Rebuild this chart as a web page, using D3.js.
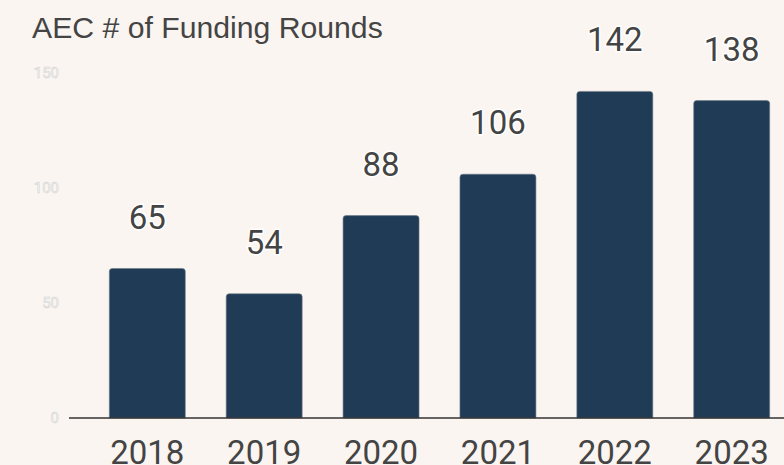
<!DOCTYPE html>
<html>
<head>
<meta charset="utf-8">
<script src="https://cdn.jsdelivr.net/npm/d3@7"></script>
<style>
  html, body { margin: 0; padding: 0; background: #faf5f0; overflow: hidden; }
  svg { display: block; }
</style>
</head>
<body>
<svg width="784" height="465"></svg>
<script>
const years = ['2018', '2019', '2020', '2021', '2022', '2023'];
const rounds = [65, 54, 88, 106, 142, 138];
const yTicks = [0, 50, 100, 150];

const svg = d3.select('svg');
const width = 784;
const height = 465;

svg.append('rect')
  .attr('width', width)
  .attr('height', height)
  .attr('fill', '#faf5f0');

// title
svg.append('text')
  .text('AEC # of Funding Rounds')
  .attr('x', 32)
  .attr('y', 38)
  .attr('font-family', '"Liberation Sans", Arial, sans-serif')
  .attr('font-size', '30.2px')
  .attr('fill', '#444');

const xScale = d3.scaleBand()
  .domain(years)
  .range([69, 810])
  .paddingInner(0.35)
  .paddingOuter(0.345);

const yScale = d3.scaleLinear()
  .domain([0, 150])
  .range([418, 73]);

// y tick labels
svg.append('g')
  .selectAll('text')
  .data(yTicks)
  .enter()
  .append('text')
  .text(d => d)
  .attr('x', 59)
  .attr('y', d => yScale(d))
  .attr('dy', '0.36em')
  .attr('text-anchor', 'end')
  .attr('font-family', 'Roboto, sans-serif')
  .attr('font-size', '15px')
  .attr('fill', '#f7f7f7')
  .attr('stroke', '#cdcdcd')
  .attr('stroke-width', 0.5);

// bars
const bars = svg.append('g');
bars.selectAll('path')
  .data(years)
  .enter()
  .append('path')
  .attr('d', (d, i) => {
    const x = xScale(d), w = xScale.bandwidth();
    const y0 = yScale(0), y1 = yScale(rounds[i]);
    const r = 3;
    return `M${x},${y0}V${y1 + r}Q${x},${y1} ${x + r},${y1}H${x + w - r}Q${x + w},${y1} ${x + w},${y1 + r}V${y0}Z`;
  })
  .attr('fill', '#1f3b55')
  .attr('stroke', '#6b7a88')
  .attr('stroke-width', 0.6);

// value labels
svg.append('g')
  .selectAll('text')
  .data(years)
  .enter()
  .append('text')
  .text((d, i) => rounds[i])
  .attr('x', d => xScale(d) + xScale.bandwidth() / 2)
  .attr('y', (d, i) => yScale(rounds[i]) - 40)
  .attr('text-anchor', 'middle')
  .attr('font-family', 'Roboto, sans-serif')
  .attr('font-size', '33px')
  .attr('fill', '#444')
  .attr('stroke', '#fff')
  .attr('stroke-width', 3)
  .attr('paint-order', 'stroke');

// x axis
const xAxis = d3.axisBottom(xScale)
  .tickSize(0)
  .tickPadding(0);

const xAxisG = svg.append('g')
  .attr('transform', `translate(0,${yScale(0)})`)
  .call(xAxis);
xAxisG.select('.domain').remove();
xAxisG.selectAll('text')
  .attr('y', 46)
  .attr('dy', 0)
  .attr('font-family', 'Roboto, sans-serif')
  .attr('font-size', '33px')
  .attr('fill', '#444');

svg.append('line')
  .attr('x1', 69)
  .attr('x2', width)
  .attr('y1', yScale(0))
  .attr('y2', yScale(0))
  .attr('stroke', '#333')
  .attr('stroke-width', 1.5);
</script>
</body>
</html>
